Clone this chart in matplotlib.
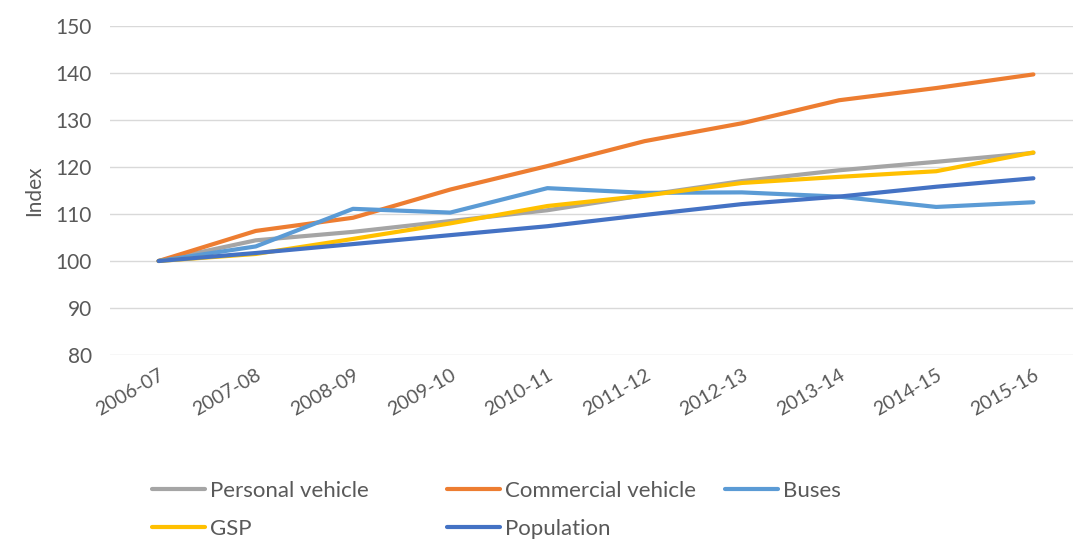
import numpy as np
import matplotlib
matplotlib.use("Agg")
from matplotlib import pyplot as plt

# data
years = ["2006-07", "2007-08", "2008-09", "2009-10", "2010-11",
         "2011-12", "2012-13", "2013-14", "2014-15", "2015-16"]
personal = [100, 104.4, 106.2, 108.5, 110.8, 114.0, 117.0, 119.3, 121.1, 123.0]
commercial = [100, 106.4, 109.2, 115.2, 120.2, 125.5, 129.3, 134.2, 136.8, 139.7]
buses = [100, 103.1, 111.1, 110.3, 115.5, 114.5, 114.6, 113.7, 111.5, 112.5]
gsp = [100, 101.5, 104.7, 108.0, 111.7, 113.9, 116.6, 117.9, 119.1, 123.1]
population = [100, 101.7, 103.6, 105.5, 107.4, 109.8, 112.1, 113.7, 115.8, 117.6]

names = ["Personal vehicle", "Commercial vehicle", "Buses", "GSP", "Population"]
colors = ["#A5A5A5", "#ED7D31", "#5B9BD5", "#FFC000", "#4472C4"]

plt.rcParams['font.family'] = ['Lato', 'DejaVu Sans']
txt = "#595959"

fig = plt.figure(figsize=(10.73, 5.39), dpi=100)
ax = fig.add_axes([110/1073, 1-355/539, (1073-110)/1073, (355-26)/539])

x = np.arange(len(years))
lines = []
for vals, c, n in zip([personal, commercial, buses, gsp, population], colors, names):
    l, = ax.plot(x, vals, color=c, lw=3.0, label=n, solid_capstyle='round')
    lines.append(l)

ax.set_ylim(80, 150)
ax.set_yticks(range(80, 151, 10))
ax.set_xlim(-0.5, 9.5 - 9/97.2)
ax.set_xticks(x)
ax.set_xticklabels(years, rotation=30, ha='right', rotation_mode='anchor')
ax.grid(axis='y', color='#D9D9D9', lw=1)
ax.set_axisbelow(True)
for s in ax.spines.values():
    s.set_visible(False)
ax.tick_params(axis='both', length=0, colors=txt)
ax.tick_params(axis='y', pad=13, labelsize=15)
ax.tick_params(axis='x', pad=8, labelsize=14)
ax.set_ylabel("Index", fontsize=15, color=txt, labelpad=8)

# legend laid out like the original: three columns, two rows
cols = [([lines[0], lines[3]], 143), ([lines[1], lines[4]], 438), ([lines[2]], 716)]
for hs, px in cols:
    leg = fig.legend(handles=hs, labels=[h.get_label() for h in hs],
                     loc='upper left', bbox_to_anchor=(px/1073, 1-472/539),
                     frameon=False, fontsize=16, handlelength=2.4,
                     handletextpad=0.2, labelspacing=0.8, borderaxespad=0)
    for t in leg.get_texts():
        t.set_color(txt)

fig.savefig("out.png", dpi=100)
